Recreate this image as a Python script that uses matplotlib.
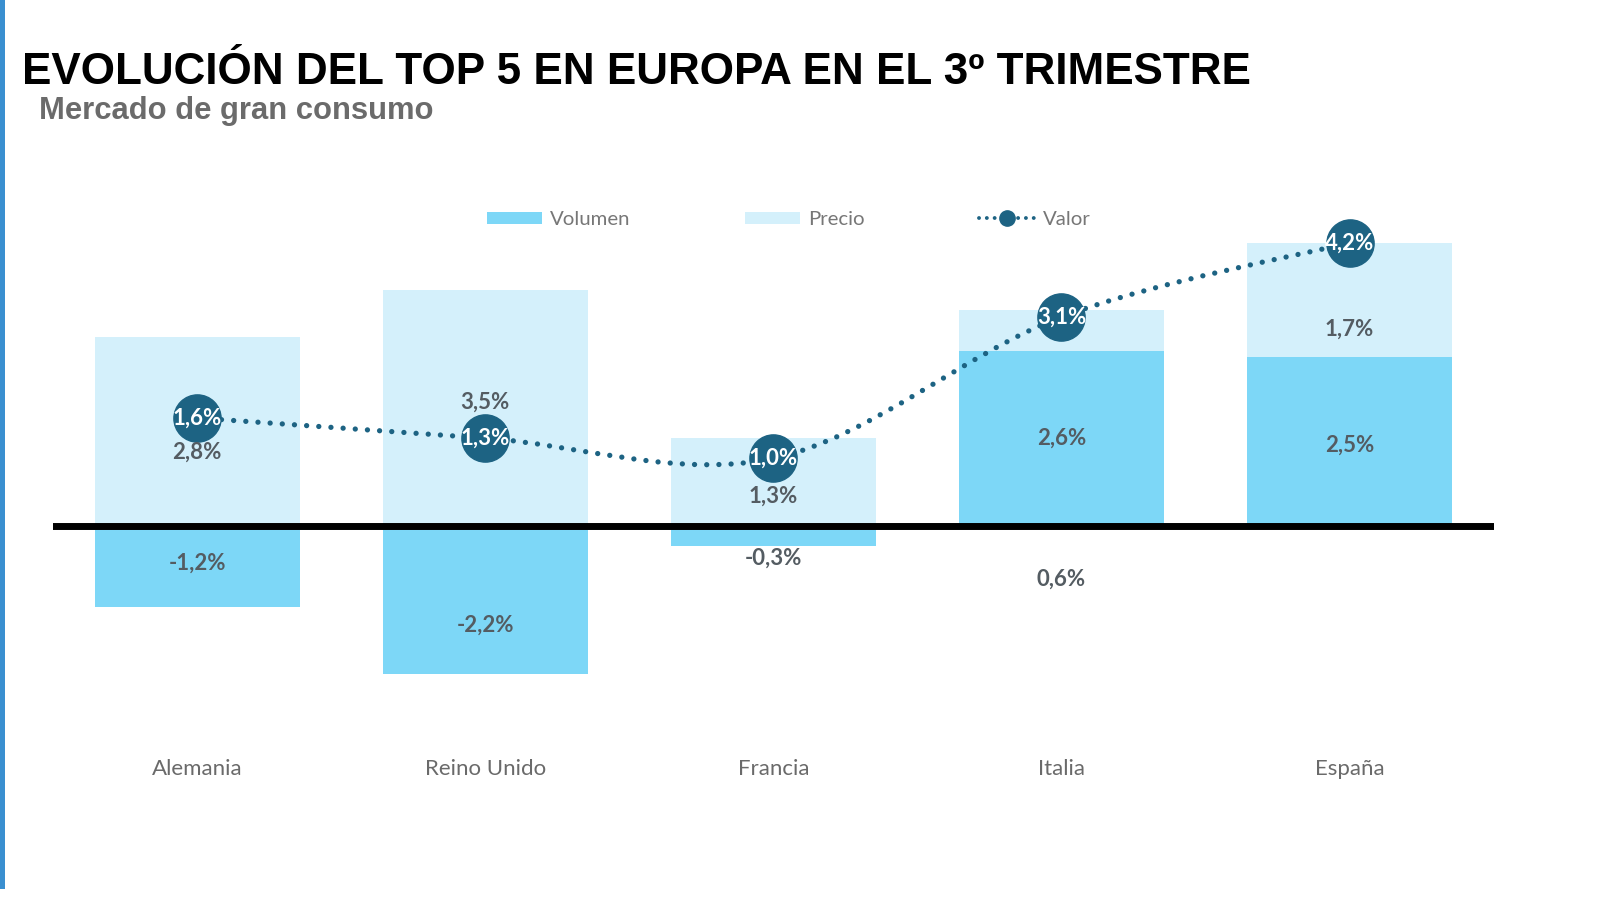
import matplotlib
matplotlib.use("Agg")
import matplotlib.pyplot as plt
from matplotlib.path import Path
from matplotlib.patches import PathPatch, Rectangle, Patch
from matplotlib.lines import Line2D
import matplotlib.transforms as mtransforms

# ---------------- data ----------------
categories = ["Alemania", "Reino Unido", "Francia", "Italia", "España"]
volumen = [-1.2, -2.2, -0.3, 2.6, 2.5]
precio = [2.8, 3.5, 1.3, 0.6, 1.7]
valor = [1.6, 1.3, 1.0, 3.1, 4.2]

title = "EVOLUCIÓN DEL TOP 5 EN EUROPA EN EL 3º TRIMESTRE"
subtitle = "Mercado de gran consumo"

# label placement (style: vertical positions of value labels, in data units)
volumen_label_y = [-0.56, -1.48, -0.48, 1.30, 1.20]
precio_label_y = [1.09, 1.83, 0.44, -0.80, 2.91]

# ---------------- style ----------------
C_VOL = "#7dd7f7"
C_PRE = "#d4f0fb"
C_VAL = "#1d6383"
C_TXT = "#545c62"

# layout helpers (reference measured on a 1567 x 881.6 frame)
RW, RH = 1567.2, 881.6
def fx(px):
    return px / RW
def fy(py):
    return 1 - py / RH

fig = plt.figure(figsize=(16, 9), dpi=100)
fig.patch.set_facecolor("white")

ax_left, ax_right, ax_top, ax_bot = 52, 1463, 170, 700
ax = fig.add_axes([fx(ax_left), fy(ax_bot), fx(ax_right) - fx(ax_left), fy(ax_top) - fy(ax_bot)])
ax.set_xlim(-0.5, 4.5)
ax.set_ylim(-(ax_bot - 515) / 66, (515 - ax_top) / 66)
ax.axis("off")

x = list(range(len(categories)))
w = 0.712
ax.bar(x, volumen, width=w, color=C_VOL, zorder=2)
prec_bottom = [max(v, 0) for v in volumen]
ax.bar(x, precio, bottom=prec_bottom, width=w, color=C_PRE, zorder=2)

ax.axhline(0, color="black", lw=5.0, zorder=3)

# smooth dotted line through valor points (Catmull-Rom -> cubic Bezier)
pts = list(zip(x, valor))
verts = [pts[0]]
codes = [Path.MOVETO]
n = len(pts)
for i in range(n - 1):
    p0 = pts[i - 1] if i > 0 else pts[i]
    p1 = pts[i]
    p2 = pts[i + 1]
    p3 = pts[i + 2] if i + 2 < n else pts[i + 1]
    c1 = (p1[0] + (p2[0] - p0[0]) / 6, p1[1] + (p2[1] - p0[1]) / 6)
    c2 = (p2[0] - (p3[0] - p1[0]) / 6, p2[1] - (p3[1] - p1[1]) / 6)
    verts += [c1, c2, p2]
    codes += [Path.CURVE4] * 3
curve = PathPatch(Path(verts, codes), facecolor="none", edgecolor=C_VAL,
                  lw=3.8, linestyle=(0, (0.01, 2.3)), capstyle="round", zorder=4)
ax.add_patch(curve)
ax.plot(x, valor, linestyle="none", marker="o", markersize=34,
        markerfacecolor=C_VAL, markeredgecolor=C_VAL, zorder=5)

lab_font = ["Lato", "DejaVu Sans"]
for i in x:
    ax.text(i, valor[i], f"{valor[i]:.1f}%".replace(".", ","), ha="center", va="center",
            color="white", fontsize=16, fontweight="bold", family=lab_font, zorder=6)
    ax.text(i, precio_label_y[i], f"{precio[i]:.1f}%".replace(".", ","), ha="center",
            va="center", color=C_TXT, fontsize=16, fontweight="bold", family=lab_font, zorder=6)
    ax.text(i, volumen_label_y[i], f"{volumen[i]:.1f}%".replace(".", ","), ha="center",
            va="center", color=C_TXT, fontsize=16, fontweight="bold", family=lab_font, zorder=6)

trans = mtransforms.blended_transform_factory(ax.transData, ax.transAxes)
for i, c in enumerate(categories):
    ax.text(i, (ax_bot - 753) / (ax_bot - ax_top), c, transform=trans, ha="center",
            va="center", color="#6a6a6a", fontsize=16, family=lab_font, clip_on=False)

# legend
handles = [
    Patch(facecolor=C_VOL, edgecolor="none"),
    Patch(facecolor=C_PRE, edgecolor="none"),
    Line2D([0], [0], color=C_VAL, lw=2.8, linestyle=(0, (0.01, 2.0)),
           dash_capstyle="round", marker="o", markersize=11,
           markerfacecolor=C_VAL, markeredgecolor=C_VAL),
]
leg = fig.legend(handles, ["Volumen", "Precio", "Valor"], loc="center",
                 bbox_to_anchor=(fx(772.5), fy(215)), ncol=3, frameon=False,
                 handlelength=2.7, handleheight=0.5, handletextpad=0.4,
                 columnspacing=5.6, numpoints=1,
                 prop={"family": lab_font, "size": 14.7})
for t in leg.get_texts():
    t.set_color("#777777")

# titles
fig.text(fx(22), fy(82), title, ha="left", va="baseline",
         fontsize=31.7, fontweight="bold", family=["Liberation Sans", "DejaVu Sans"],
         color="black")
fig.text(fx(38), fy(117), subtitle, ha="left", va="baseline",
         fontsize=22.3, fontweight="bold", family=["Liberation Sans", "DejaVu Sans"],
         color="#6b6b6b")

# left decorative blue strip
fig.patches.append(Rectangle((0, 0.012), fx(5), 0.988, transform=fig.transFigure,
                             facecolor="#3a8fd0", edgecolor="none"))

fig.savefig("out.png", dpi=100)
